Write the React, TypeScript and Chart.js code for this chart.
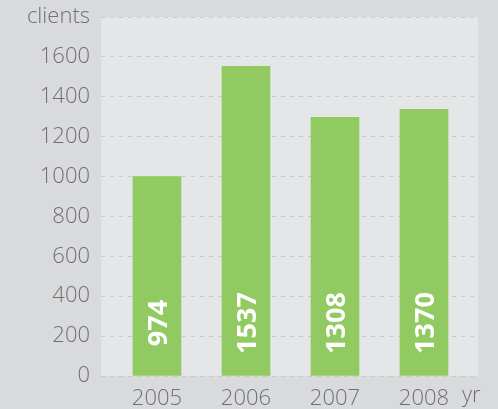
import React, { useEffect, useRef } from "react";
import { Chart, registerables } from "chart.js";

Chart.register(...registerables);

const years = ["2005", "2006", "2007", "2008"];
const barHeights = [1000, 1553, 1297, 1337];
const barLabels = ["974", "1537", "1308", "1370"];
const yTicks = [0, 200, 400, 600, 800, 1000, 1200, 1400, 1600, 1800];
const yAxisTitle = "clients";
const xAxisTitle = "yr";

const FONT = "'Open Sans', sans-serif";
const TEXT = "#707072";

export default function App() {
  const ref = useRef<HTMLCanvasElement | null>(null);

  useEffect(() => {
    if (!ref.current) return;
    const bgPlugin = {
      id: "plotBg",
      beforeDraw(chart: any) {
        const { ctx, chartArea } = chart;
        ctx.save();
        ctx.fillStyle = "#e5e6e8";
        ctx.fillRect(chartArea.left, chartArea.top, chartArea.right - chartArea.left, chartArea.bottom - chartArea.top);
        ctx.restore();
      },
    };
    const labelPlugin = {
      id: "barLabels",
      afterDatasetsDraw(chart: any) {
        const { ctx } = chart;
        const meta = chart.getDatasetMeta(0);
        const yScale = chart.scales.y;
        const base = yScale.getPixelForValue(0);
        ctx.save();
        ctx.fillStyle = "#ffffff";
        ctx.font = `bold 27px ${FONT}`;
        ctx.textAlign = "center";
        ctx.textBaseline = "middle";
        meta.data.forEach((bar: any, i: number) => {
          ctx.save();
          ctx.translate(bar.x, base - 53);
          ctx.rotate(-Math.PI / 2);
          ctx.fillText(barLabels[i], 0, 2);
          ctx.restore();
        });
        ctx.fillStyle = TEXT;
        ctx.font = `300 22px ${FONT}`;
        ctx.textAlign = "left";
        ctx.textBaseline = "middle";
        ctx.fillText(xAxisTitle, 462, 396);
        ctx.restore();
      },
    };
    const chart = new Chart(ref.current, {
      type: "bar",
      data: {
        datasets: [
          {
            data: years.map((_, i) => ({ x: i, y: barHeights[i] })),
            backgroundColor: "#90ca60",
            borderWidth: 0,
            barThickness: 48,
          },
        ],
      },
      options: {
        animation: false,
        responsive: false,
        maintainAspectRatio: false,
        layout: { padding: { left: 0, right: 20, top: 17, bottom: 0 } },
        plugins: { legend: { display: false }, tooltip: { enabled: false } },
        scales: {
          x: {
            type: "linear",
            offset: false,
            min: -0.629,
            max: 3.607,
            grid: { display: false, offset: false },
            border: { display: false },
            afterFit(scale: any) {
              scale.height = 33;
              scale.paddingLeft = 0;
              scale.paddingRight = 0;
            },
            ticks: {
              stepSize: 1,
              includeBounds: false,
              autoSkip: false,
              maxRotation: 0,
              padding: 2,
              color: TEXT,
              font: { family: FONT, size: 22, weight: "300" },
              callback: (v: any) => (Number.isInteger(v) && years[v] ? years[v] : ""),
            },
          },
          y: {
            min: 0,
            max: 1800,
            afterFit(scale: any) {
              scale.width = 101;
              scale.paddingTop = 0;
              scale.paddingBottom = 0;
            },
            afterBuildTicks(scale: any) {
              scale.ticks = yTicks.map((v) => ({ value: v }));
            },
            grid: {
              color: "#c9cacc",
              drawTicks: false,
              lineWidth: 1,
            },
            border: { display: false, dash: [4, 5] },
            ticks: {
              padding: 11,
              color: TEXT,
              font: { family: FONT, size: 22, weight: "300" },
              callback: (v: any) => (v === 1800 ? yAxisTitle : String(v)),
            },
          },
        },
      },
      plugins: [bgPlugin, labelPlugin],
    });
    return () => chart.destroy();
  }, []);

  return (
    <div style={{ position: "fixed", left: 0, top: 0, width: 498, height: 409, background: "#d9dadb" }}>
      <canvas ref={ref} width={498} height={409} style={{ display: "block" }} />
    </div>
  );
}
